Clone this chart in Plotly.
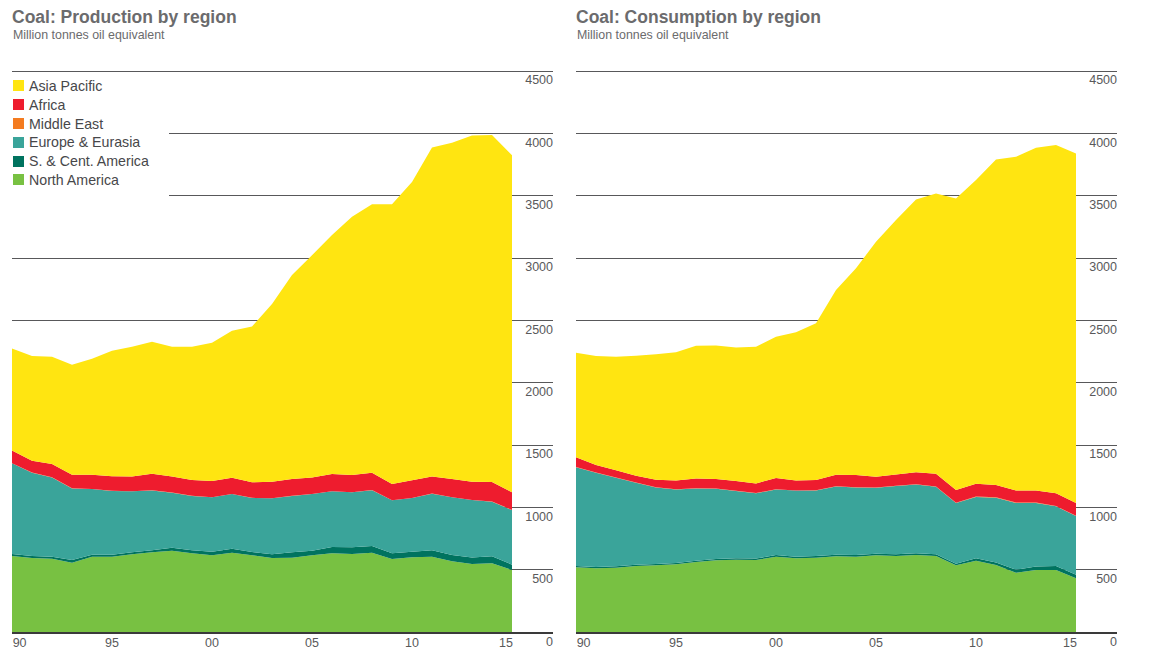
import plotly.graph_objects as go

years = list(range(1990, 2016))

prod_north_america = [610,594,588,556,604,604,623,639,652,631,615,636,615,594,596,615,631,626,636,586,599,604,567,545,551,497]
prod_s_cent_america = [16,16,16,21,16,16,16,16,24,24,29,32,27,29,43,37,51,53,53,45,45,51,51,53,56,43]
prod_europe_eurasia = [727,668,636,575,527,511,489,481,441,436,436,438,433,449,452,454,446,441,449,425,430,454,462,460,438,438]
prod_middle_east = [1,1,1,1,1,1,1,1,1,1,1,1,1,1,1,1,1,1,1,1,1,1,1,1,1,1]
prod_africa = [101,95,106,109,114,117,119,133,130,127,130,130,125,133,135,133,138,138,138,130,143,138,146,146,157,141]
prod_asia_pacific = [819,840,861,882,930,1006,1041,1059,1041,1070,1110,1179,1249,1424,1636,1783,1917,2072,2154,2245,2392,2639,2697,2777,2783,2705]

cons_north_america = [519,511,516,529,535,543,561,575,580,578,604,591,596,607,604,615,610,618,610,535,572,537,476,497,497,431]
cons_s_cent_america = [11,11,11,11,11,11,11,11,11,11,13,13,13,13,13,13,13,13,13,13,19,21,24,29,32,29]
cons_europe_eurasia = [791,756,711,658,614,590,580,564,540,523,527,530,527,548,543,530,548,553,543,487,492,519,535,509,479,470]
cons_middle_east = [2,2,2,2,2,2,2,2,2,2,2,2,2,2,2,2,2,2,2,2,3,3,3,3,2,2]
cons_africa = [78,59,57,54,60,70,78,75,78,78,89,80,81,92,97,86,91,95,102,102,104,99,96,98,102,103]
cons_asia_pacific = [839,875,911,962,1005,1027,1065,1072,1072,1097,1134,1188,1257,1481,1659,1884,2040,2189,2248,2339,2435,2612,2678,2748,2794,2804]

region_names = ["North America", "S. & Cent. America", "Europe & Eurasia", "Middle East", "Africa", "Asia Pacific"]
region_colors = ["#78C142", "#00735F", "#3AA49A", "#F47B20", "#EE1C2E", "#FFE511"]
y_ticks = [500, 1000, 1500, 2000, 2500, 3000, 3500, 4000, 4500]
x_tick_pos = [1990.38, 1995, 2000, 2005, 2010, 2014.7]
x_tick_text = ["90", "95", "00", "05", "10", "15"]

W, H = 1152, 659
TITLE_FONT = "Liberation Sans"
GREY = "#6b6b6d"
Y_TOP = 4510
PLOT_TOP = 632 - Y_TOP * (561 / 4500)


def px(v):
    return v / W


def py(v):
    return 1 - v / H


fig = go.Figure()
prod = [prod_north_america, prod_s_cent_america, prod_europe_eurasia, prod_middle_east, prod_africa, prod_asia_pacific]
cons = [cons_north_america, cons_s_cent_america, cons_europe_eurasia, cons_middle_east, cons_africa, cons_asia_pacific]
for series, ax, grp in ((prod, ("x", "y"), "p"), (cons, ("x2", "y2"), "c")):
    for name, color, vals in zip(region_names, region_colors, series):
        fig.add_trace(go.Scatter(
            x=years, y=vals, name=name, xaxis=ax[0], yaxis=ax[1],
            stackgroup=grp, mode="none", fillcolor=color, showlegend=False,
        ))

tick_font = dict(family=TITLE_FONT, size=12.5, color="#59595b")
x_common = dict(
    range=[1990, 2017.05], tickmode="array", tickvals=x_tick_pos, ticktext=x_tick_text,
    showgrid=False, zeroline=False, showline=True, linecolor="#3a3a3a", linewidth=1.5,
    ticks="", ticklabelstandoff=-2, tickfont=tick_font,
)
y_common = dict(
    range=[0, Y_TOP], tickmode="array", tickvals=y_ticks, ticktext=[str(t) for t in y_ticks],
    side="right", ticklabelposition="inside", ticklabelshift=9, ticklabelstandoff=-3, showgrid=True,
    gridcolor="#58585a", gridwidth=1, zeroline=False, showline=False, ticks="",
    tickfont=tick_font,
)
fig.update_layout(
    width=W, height=H, margin=dict(l=0, r=0, t=0, b=0), autosize=False,
    paper_bgcolor="white", plot_bgcolor="white", showlegend=False,
    xaxis=dict(domain=[px(12), px(553)], anchor="y", **x_common),
    yaxis=dict(domain=[py(632), py(PLOT_TOP)], anchor="x", **y_common),
    xaxis2=dict(domain=[px(576), px(1117)], anchor="y2", **x_common),
    yaxis2=dict(domain=[py(632), py(PLOT_TOP)], anchor="x2", **y_common),
)

# white panel behind the key hides the 3500 and 4000 rules
annotations = [dict(xref="paper", yref="paper", x=px(10), y=py(78), xanchor="left", yanchor="top",
                    text=" ", showarrow=False, width=159, height=122, bgcolor="white",
                    borderpad=0, borderwidth=0, font=dict(size=1))]
for left, title in ((12, "Coal: Production by region"), (576, "Coal: Consumption by region")):
    annotations.append(dict(xref="paper", yref="paper", x=px(left), y=py(17), xanchor="left", yanchor="middle",
                            text=f"<b>{title}</b>", showarrow=False, xshift=-2,
                            font=dict(family=TITLE_FONT, size=17.5, color=GREY)))
    annotations.append(dict(xref="paper", yref="paper", x=px(left + 1), y=py(35), xanchor="left", yanchor="middle",
                            text="Million tonnes oil equivalent", showarrow=False, xshift=-2,
                            font=dict(family=TITLE_FONT, size=12.4, color=GREY)))
    annotations.append(dict(xref="paper", yref="paper", x=px(left + 541), y=py(642), xanchor="right", yanchor="middle",
                            text="0", showarrow=False, xshift=2, font=tick_font))

for i, (name, color) in enumerate(zip(region_names[::-1], region_colors[::-1])):
    cy = 86 + i * 18.8
    annotations.append(dict(xref="paper", yref="paper", x=px(13), y=py(cy), xanchor="left", yanchor="middle",
                            text=" ", showarrow=False, width=11, height=11, bgcolor=color,
                            borderpad=0, borderwidth=0, font=dict(size=1)))
    annotations.append(dict(xref="paper", yref="paper", x=px(29), y=py(cy), xanchor="left", yanchor="middle",
                            text=name, showarrow=False, xshift=-2,
                            font=dict(family=TITLE_FONT, size=14.2, color="#47474a")))
fig.update_layout(annotations=annotations)

fig.write_html("out.html", config={"displayModeBar": False},
               post_script="document.body.style.margin='0';document.body.style.overflow='hidden';")
